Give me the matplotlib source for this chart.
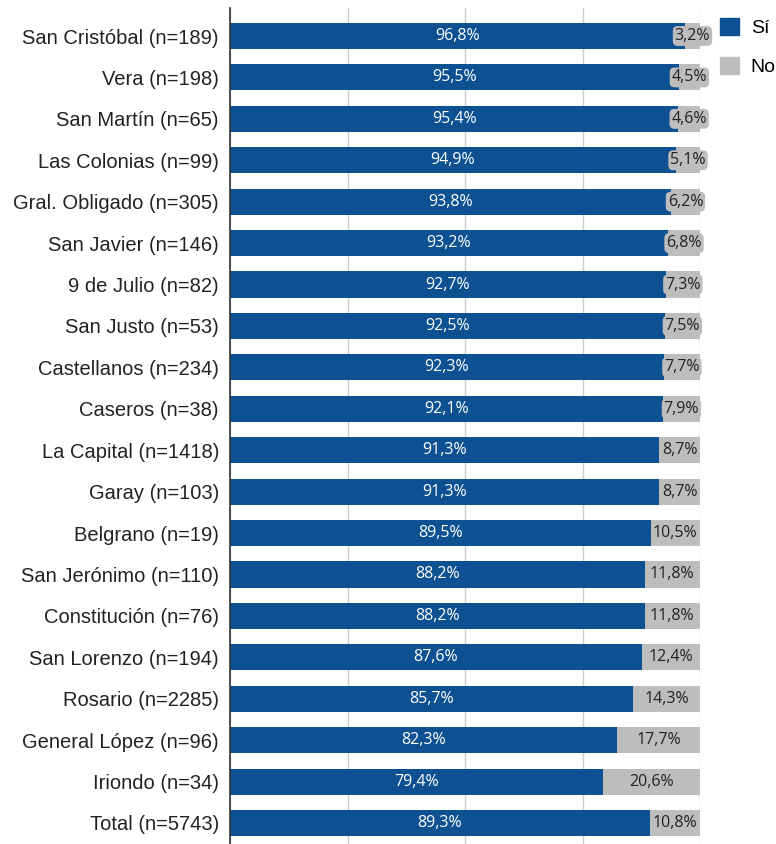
import matplotlib.pyplot as plt
from matplotlib.patches import Patch

categories = [
    'San Cristóbal (n=189)', 'Vera (n=198)', 'San Martín (n=65)',
    'Las Colonias (n=99)', 'Gral. Obligado (n=305)', 'San Javier (n=146)',
    '9 de Julio (n=82)', 'San Justo (n=53)', 'Castellanos (n=234)',
    'Caseros (n=38)', 'La Capital (n=1418)', 'Garay (n=103)',
    'Belgrano (n=19)', 'San Jerónimo (n=110)', 'Constitución (n=76)',
    'San Lorenzo (n=194)', 'Rosario (n=2285)', 'General López (n=96)',
    'Iriondo (n=34)', 'Total (n=5743)',
]
si = [96.8, 95.5, 95.4, 94.9, 93.8, 93.2, 92.7, 92.5, 92.3, 92.1,
      91.3, 91.3, 89.5, 88.2, 88.2, 87.6, 85.7, 82.3, 79.4, 89.3]
no = [3.2, 4.5, 4.6, 5.1, 6.2, 6.8, 7.3, 7.5, 7.7, 7.9,
      8.7, 8.7, 10.5, 11.8, 11.8, 12.4, 14.3, 17.7, 20.6, 10.8]

blue = '#0d5192'
grey = '#bdbdbd'

fig = plt.figure(figsize=(7.76, 8.44), dpi=100)
ax = fig.add_axes([230 / 776, 0, 470 / 776, 836 / 844])

y = list(range(len(categories)))
ax.barh(y, si, height=0.63, color=blue, zorder=2)
ax.barh(y, no, left=si, height=0.63, color=grey, zorder=2)

def fmt(v):
    return f'{v:.1f}'.replace('.', ',') + '%'

for i in y:
    ax.text(si[i] / 2, i, fmt(si[i]), ha='center', va='center', color='white',
            fontsize=11.5, family='Open Sans', zorder=3)
    ax.text(si[i] + no[i] / 2, i, fmt(no[i]), ha='center', va='center', color='#222222',
            fontsize=11.5, family='Open Sans', zorder=4,
            bbox=dict(boxstyle='round,pad=0.12,rounding_size=0.3', fc=grey, ec='none'))

ax.set_xlim(0, 100)
ax.set_ylim(19.507, -0.676)
ax.set_yticks(y)
ax.set_yticklabels(categories, fontsize=14.5, family='Liberation Sans', color='#222222')
ax.tick_params(axis='y', length=0, pad=8)
ax.set_xticks([0, 25, 50, 75, 100])
ax.tick_params(axis='x', length=0, labelbottom=False)
ax.grid(axis='x', color='#cccccc', linewidth=1, zorder=0)
for s in ['top', 'right', 'bottom']:
    ax.spines[s].set_visible(False)
ax.spines['left'].set_color('#333333')
ax.spines['left'].set_linewidth(1.2)
ax.spines['left'].set_zorder(5)

handles = [Patch(color=blue, label='Sí'), Patch(color=grey, label='No')]
leg = fig.legend(handles=handles, loc='upper left', bbox_to_anchor=(706 / 776, 0.995),
                 frameon=False, prop={'family': 'Liberation Sans', 'size': 14},
                 handlelength=1.0, handleheight=1.0, labelspacing=1.0, handletextpad=0.6,
                 borderaxespad=0.3)

fig.savefig('out.png', dpi=100)
